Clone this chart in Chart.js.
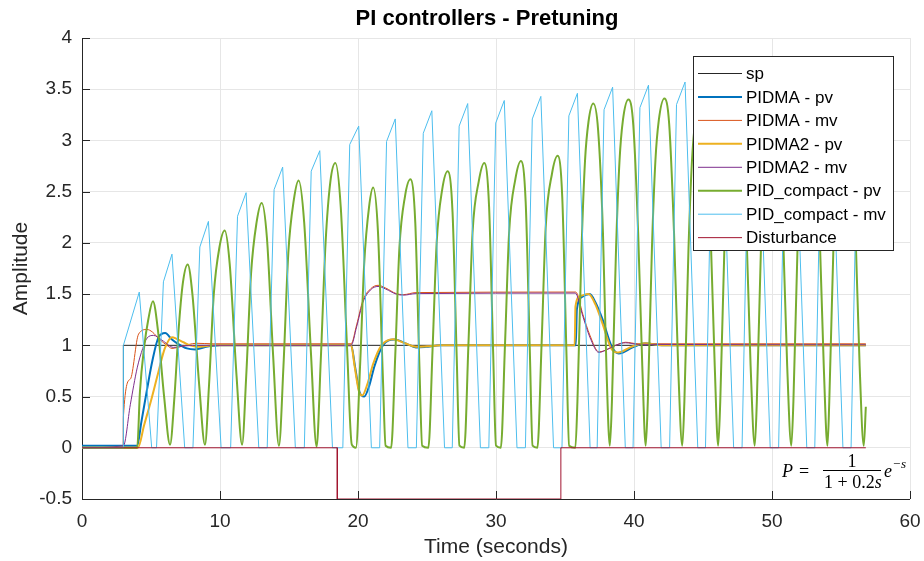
<!DOCTYPE html>
<html lang="en">
<head>
    <meta charset="UTF-8">
    <title>PI controllers - Pretuning</title>
    <script src="https://cdn.jsdelivr.net/npm/chart.js"></script>
    <style>
        body { margin: 0; background: #fff; }
    </style>
</head>
<body>
    <canvas id="plot" width="924" height="561"></canvas>

<script>
    // values (time in seconds)
    let spT = [0, 3, 3, 56.8];
    let spV = [0, 0, 1, 1];

    let distT = [0, 18.5, 18.5, 34.7, 34.7, 56.8];
    let distV = [0, 0, -0.5, -0.5, 0, 0];

    let pidmaPvT = [0, 4.0, 4.3, 4.7, 5.1, 5.55, 6.03, 6.5, 6.9, 7.6, 8.2, 9.0, 10.0, 19.5, 19.8, 20.1, 20.45, 20.8, 21.2, 21.8,
        22.65, 23.5, 24.2, 24.9, 26.0, 35.78, 35.86, 36.2, 36.8, 37.2, 37.7, 38.4, 38.9, 39.9, 40.8, 42.0, 56.8];
    let pidmaPvV = [0.02, 0.02, 0.25, 0.56, 0.85, 1.08, 1.12, 1.06, 1.02, 0.97, 0.96, 0.985, 1.0, 1.0, 0.78, 0.55, 0.5, 0.6, 0.8, 1.0,
        1.056, 1.017, 0.98, 0.985, 1.0, 1.0, 1.35, 1.47, 1.5, 1.42, 1.26, 0.985, 0.92, 0.98, 1.02, 1.0, 1.0];

    let pidmaMvT = [0, 2.99, 3.0, 3.5, 4.1, 4.71, 5.1, 5.6, 6.16, 6.52, 7.2, 8.3, 9.5, 19.5, 19.9, 20.36, 20.9, 21.45, 22.0, 22.77,
        23.3, 24.2, 35.78, 36.3, 36.8, 37.46, 37.9, 38.67, 39.4, 40.3, 56.8];
    let pidmaMvV = [0, 0, 0.3, 0.67, 1.11, 1.155, 1.13, 1.06, 1.0, 0.97, 0.99, 1.02, 1.015, 1.015, 1.2, 1.44, 1.55, 1.586, 1.56, 1.505,
        1.495, 1.515, 1.52, 1.3, 1.1, 0.936, 0.95, 1.0, 1.03, 1.015, 1.015];

    let pidma2PvT = [0, 4.05, 4.5, 5.0, 5.5, 6.0, 6.52, 6.9, 7.36, 7.84, 8.56, 9.5, 19.5, 19.75, 20.05, 20.3, 20.7, 21.1, 21.7, 22.55,
        23.4, 24.2, 25.0, 26.0, 35.7, 35.76, 36.1, 36.7, 37.2, 37.7, 38.35, 38.85, 39.8, 40.8, 42.0, 56.8];
    let pidma2PvV = [0, 0, 0.22, 0.46, 0.72, 0.97, 1.08, 1.06, 1.03, 1.0, 0.985, 1.0, 1.0, 0.8, 0.56, 0.51, 0.63, 0.82, 1.0, 1.06,
        1.02, 0.985, 0.99, 1.0, 1.0, 1.38, 1.48, 1.5, 1.4, 1.22, 0.97, 0.93, 0.985, 1.02, 1.0, 1.0];

    let pidma2MvT = [0, 3.0, 3.5, 4.0, 4.4, 4.71, 5.19, 5.8, 6.63, 7.5, 8.5, 19.5, 19.9, 20.36, 20.9, 21.45, 22.0, 22.77, 23.3, 24.2,
        35.74, 36.3, 36.8, 37.46, 37.9, 38.67, 39.4, 40.3, 56.8];
    let pidma2MvV = [0, 0.02, 0.42, 0.78, 0.97, 1.07, 1.097, 1.05, 0.98, 0.995, 1.0, 1.0, 1.18, 1.42, 1.54, 1.575, 1.55, 1.5, 1.49, 1.505,
        1.51, 1.28, 1.08, 0.93, 0.95, 1.0, 1.025, 1.01, 1.005];

    let compactPvT = [0, 4.0, 4.2, 4.5, 4.8, 5.14, 5.5, 5.95, 6.38,
        6.7, 7.0, 7.3, 7.66, 8.0, 8.5, 8.91,
        9.2, 9.55, 9.95, 10.34, 10.7, 11.2, 11.6,
        11.9, 12.25, 12.65, 13.02, 13.4, 13.85, 14.27,
        14.6, 14.95, 15.35, 15.7, 16.1, 16.6, 17.0,
        17.3, 17.65, 18.0, 18.36, 18.75, 19.2, 19.55, 19.85,
        20.15, 20.45, 20.8, 21.1, 21.45, 21.8, 22.0, 22.4,
        22.7, 23.0, 23.4, 23.8, 24.15, 24.45, 24.65, 25.1,
        25.4, 25.7, 26.1, 26.5, 26.85, 27.15, 27.35, 27.7,
        28.0, 28.3, 28.75, 29.15, 29.5, 29.8, 30.0, 30.35,
        30.65, 30.95, 31.4, 31.81, 32.15, 32.45, 32.65, 33.0,
        33.3, 33.6, 34.05, 34.47, 34.8, 35.1, 35.3, 35.75,
        35.9, 36.2, 36.45, 36.7, 37.05, 37.4, 37.75, 38.0, 38.25,
        38.4, 38.7, 38.95, 39.2, 39.6, 39.95, 40.3, 40.6, 40.85,
        41.0, 41.3, 41.55, 41.8, 42.2, 42.55, 42.9, 43.2, 43.5,
        43.65, 43.95, 44.2, 44.45, 44.85, 45.2, 45.55, 45.85, 46.1,
        46.25, 46.55, 46.8, 47.05, 47.45, 47.8, 48.15, 48.45, 48.75,
        48.9, 49.2, 49.45, 49.7, 50.1, 50.45, 50.8, 51.1, 51.4,
        51.55, 51.85, 52.1, 52.35, 52.75, 53.1, 53.45, 53.75, 54.02,
        54.15, 54.45, 54.7, 54.95, 55.35, 55.7, 56.05, 56.35, 56.65,
        56.8];
    let compactPvV = [0, 0, 0.55, 0.98, 1.25, 1.43, 1.15, 0.5, 0.03,
        0.5, 1.15, 1.6, 1.79, 1.5, 0.6, 0.03,
        0.6, 1.5, 1.95, 2.12, 1.8, 0.7, 0.03,
        0.7, 1.7, 2.2, 2.39, 2.05, 0.9, 0.02,
        0.8, 1.9, 2.42, 2.61, 2.2, 0.9, 0.01,
        0.85, 2.0, 2.6, 2.78, 2.35, 1.0, 0.03, 0,
        0.8, 1.8, 2.35, 2.54, 2.1, 0.7, 0.02, 0,
        0.9, 1.95, 2.45, 2.62, 2.2, 0.8, 0.02, 0,
        0.95, 2.0, 2.52, 2.7, 2.3, 0.9, 0.02, 0,
        1.0, 2.1, 2.6, 2.78, 2.35, 0.9, 0.02, 0,
        1.0, 2.1, 2.62, 2.8, 2.4, 0.95, 0.02, 0,
        1.0, 2.15, 2.67, 2.85, 2.45, 0.95, 0.02, 0,
        0.45, 1.95, 2.8, 3.18, 3.36, 3.1, 2.1, 0.8, 0.02,
        0.45, 1.95, 2.8, 3.2, 3.4, 3.15, 2.1, 0.8, 0.02,
        0.45, 1.95, 2.8, 3.2, 3.41, 3.16, 2.1, 0.8, 0.02,
        0.45, 1.95, 2.8, 3.2, 3.42, 3.17, 2.1, 0.8, 0.02,
        0.45, 1.95, 2.8, 3.21, 3.43, 3.18, 2.1, 0.8, 0.02,
        0.45, 1.95, 2.8, 3.21, 3.44, 3.18, 2.1, 0.8, 0.02,
        0.45, 1.95, 2.8, 3.22, 3.44, 3.19, 2.1, 0.8, 0.02,
        0.45, 1.95, 2.8, 3.22, 3.45, 3.19, 2.1, 0.8, 0.02,
        0.4];

    let compactMvT = [0, 2.99, 3.0, 4.15, 5.05,
        5.4, 5.9, 6.52, 7.44,
        8.04, 8.54, 9.16, 10.08,
        10.77, 11.27, 11.89, 12.81,
        13.42, 13.92, 14.54, 15.46,
        16.11, 16.61, 17.23, 18.15,
        18.9, 19.4, 20.05, 20.97,
        21.57, 22.07, 22.7, 23.62,
        24.23, 24.73, 25.35, 26.27,
        26.83, 27.33, 27.95, 28.87,
        29.48, 29.98, 30.6, 31.52,
        32.13, 32.63, 33.25, 34.17,
        34.78, 35.28, 35.9, 36.82,
        37.33, 37.83, 38.45, 39.37,
        39.93, 40.43, 41.05, 41.97,
        42.58, 43.08, 43.7, 44.62,
        45.18, 45.68, 46.3, 47.22,
        47.83, 48.33, 48.95, 49.87,
        50.48, 50.98, 51.6, 52.52,
        53.1, 53.6, 54.22, 55.14,
        55.73, 56.23, 56.8];
    let compactMvV = [0, 0, 1.0, 1.52, 0,
        0, 1.62, 1.89, 0,
        0, 1.96, 2.21, 0,
        0, 2.26, 2.49, 0,
        0, 2.52, 2.74, 0,
        0, 2.7, 2.90, 0,
        0, 2.96, 3.14, 0,
        0, 2.99, 3.21, 0,
        0, 3.07, 3.29, 0,
        0, 3.14, 3.36, 0,
        0, 3.17, 3.39, 0,
        0, 3.21, 3.43, 0,
        0, 3.24, 3.46, 0,
        0, 3.3, 3.52, 0,
        0, 3.32, 3.54, 0,
        0, 3.35, 3.57, 0,
        0, 3.36, 3.58, 0,
        0, 3.37, 3.59, 0,
        0, 3.38, 3.6, 0,
        0, 3.38, 3.6, 0,
        0, 3.39, 3.57];

    let xTicks = [0, 10, 20, 30, 40, 50, 60];
    let yTicks = [-0.5, 0, 0.5, 1, 1.5, 2, 2.5, 3, 3.5, 4];

    function pts(ts, vs) {
        return ts.map((t, i) => ({x: t, y: vs[i]}));
    }

    let series = [
        {label: 'sp', t: spT, v: spV, color: '#262626', width: 1, smooth: false},
        {label: 'PIDMA - pv', t: pidmaPvT, v: pidmaPvV, color: '#0072BD', width: 2, smooth: true},
        {label: 'PIDMA - mv', t: pidmaMvT, v: pidmaMvV, color: '#D95319', width: 1, smooth: true},
        {label: 'PIDMA2 - pv', t: pidma2PvT, v: pidma2PvV, color: '#EDB120', width: 2, smooth: true},
        {label: 'PIDMA2 - mv', t: pidma2MvT, v: pidma2MvV, color: '#7E2F8E', width: 1, smooth: true},
        {label: 'PID_compact - pv', t: compactPvT, v: compactPvV, color: '#77AC30', width: 2, smooth: true},
        {label: 'PID_compact - mv', t: compactMvT, v: compactMvV, color: '#4DBEEE', width: 1, smooth: false},
        {label: 'Disturbance', t: distT, v: distV, color: '#A2142F', width: 1, smooth: false}
    ];

    let datasets = series.map((s, i) => ({
        label: s.label,
        data: pts(s.t, s.v),
        borderColor: s.color,
        backgroundColor: s.color,
        borderWidth: s.width,
        pointRadius: 0,
        tension: 0,
        cubicInterpolationMode: s.smooth ? 'monotone' : 'default',
        order: series.length - i
    }));

    const FONT = '"Liberation Sans", Arial, Helvetica, sans-serif';

    // axis lines + inward ticks like matlab
    const axesPlugin = {
        id: 'axesPlugin',
        beforeDatasetsDraw(chart) {
            let {ctx, chartArea: a, scales} = chart;
            ctx.save();
            ctx.strokeStyle = '#262626';
            ctx.lineWidth = 1;
            ctx.beginPath();
            ctx.moveTo(a.left + 0.5, a.top);
            ctx.lineTo(a.left + 0.5, a.bottom + 0.5);
            ctx.lineTo(a.right, a.bottom + 0.5);
            xTicks.forEach(v => {
                let px = Math.round(scales.x.getPixelForValue(v)) + 0.5;
                ctx.moveTo(px, a.bottom);
                ctx.lineTo(px, a.bottom - 8);
            });
            yTicks.forEach(v => {
                let py = Math.round(scales.y.getPixelForValue(v)) + 0.5;
                ctx.moveTo(a.left, py);
                ctx.lineTo(a.left + 8, py);
            });
            ctx.stroke();
            ctx.restore();
        }
    };

    const textPlugin = {
        id: 'textPlugin',
        afterDraw(chart) {
            let {ctx} = chart;
            ctx.save();
            // title
            ctx.fillStyle = '#000';
            ctx.font = 'bold 22px ' + FONT;
            ctx.textAlign = 'center';
            ctx.textBaseline = 'middle';
            ctx.fillText('PI controllers - Pretuning', 487, 19);

            // legend
            let lx = 693.5, ly = 56.5, lw = 200, lh = 194;
            ctx.fillStyle = '#fff';
            ctx.fillRect(lx, ly, lw, lh);
            ctx.strokeStyle = '#262626';
            ctx.lineWidth = 1;
            ctx.strokeRect(lx, ly, lw, lh);
            ctx.font = '17px ' + FONT;
            ctx.textAlign = 'left';
            ctx.textBaseline = 'middle';
            chart.data.datasets.forEach((ds, i) => {
                let y = 73.5 + i * 23.45;
                ctx.strokeStyle = ds.borderColor;
                ctx.lineWidth = ds.borderWidth;
                ctx.beginPath();
                ctx.moveTo(698, y);
                ctx.lineTo(742, y);
                ctx.stroke();
                ctx.fillStyle = '#000';
                ctx.fillText(ds.label, 746, y + 1);
            });

            // transfer function note
            ctx.fillStyle = '#000';
            ctx.textBaseline = 'alphabetic';
            ctx.textAlign = 'left';
            ctx.font = 'italic 18px "Liberation Serif", serif';
            ctx.fillText('P', 782, 477);
            ctx.font = '18px "Liberation Serif", serif';
            ctx.fillText('=', 799, 477);
            ctx.textAlign = 'center';
            ctx.fillText('1', 852, 467);
            ctx.fillRect(823, 470, 58, 1);
            ctx.textAlign = 'left';
            let den = '1 + 0.2';
            ctx.fillText(den, 824, 488);
            let dw = ctx.measureText(den).width;
            ctx.font = 'italic 18px "Liberation Serif", serif';
            ctx.fillText('s', 824 + dw, 488);
            ctx.fillText('e', 884, 477);
            ctx.font = '13px "Liberation Serif", serif';
            ctx.fillText('\u2212', 893, 468);
            ctx.font = 'italic 13px "Liberation Serif", serif';
            ctx.fillText('s', 901, 468);
            ctx.restore();
        }
    };

    let chart = new Chart(document.getElementById('plot'), {
        type: 'line',
        data: {datasets: datasets},
        options: {
            responsive: false,
            animation: false,
            layout: {padding: {top: 38, right: 14, left: 0, bottom: 0}},
            scales: {
                x: {
                    type: 'linear',
                    min: 0,
                    max: 60,
                    afterFit: s => { s.height = 62; s.paddingLeft = 0; s.paddingRight = 0; },
                    afterBuildTicks: s => { s.ticks = xTicks.map(v => ({value: v})); },
                    grid: {color: '#e6e6e6', drawTicks: false},
                    border: {display: false},
                    ticks: {color: '#262626', font: {family: FONT, size: 19}, padding: 11, maxRotation: 0,
                        callback: v => String(v)},
                    title: {display: true, text: 'Time (seconds)', color: '#262626', font: {family: FONT, size: 21}, padding: {bottom: 1}}
                },
                y: {
                    min: -0.5,
                    max: 4,
                    afterFit: s => { s.width = 82; s.paddingTop = 0; s.paddingBottom = 0; },
                    afterBuildTicks: s => { s.ticks = yTicks.map(v => ({value: v})); },
                    grid: {color: '#e6e6e6', drawTicks: false},
                    border: {display: false},
                    ticks: {color: '#262626', font: {family: FONT, size: 19}, padding: 10,
                        callback: v => String(v)},
                    title: {display: true, text: 'Amplitude', color: '#262626', font: {family: FONT, size: 21}, padding: {top: 9}}
                }
            },
            plugins: {
                legend: {display: false},
                tooltip: {enabled: false}
            }
        },
        plugins: [axesPlugin, textPlugin]
    });
</script>
</body>
</html>
